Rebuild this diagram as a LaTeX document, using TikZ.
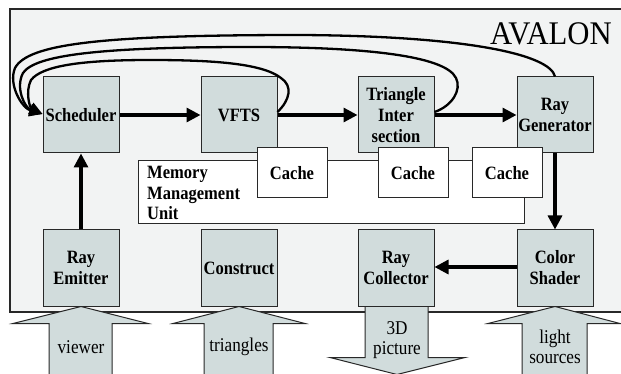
\documentclass[tikz,border=0pt]{standalone}
\usepackage{fontspec}
\setmainfont{Liberation Serif}
\newfontfamily\labfont{Liberation Serif}[FakeStretch=0.88]
\newfontfamily\titlefont{Liberation Serif}[FakeStretch=0.93]
\usetikzlibrary{arrows.meta,calc}
\definecolor{framefill}{RGB}{242,243,243}
\definecolor{boxfill}{RGB}{209,220,220}
\definecolor{edge}{RGB}{40,40,40}
\begin{document}
\begin{tikzpicture}[x=1pt,y=-1pt,
  unit/.style={draw=edge, line width=1pt, fill=boxfill, minimum width=76pt, minimum height=76pt,
    inner sep=0pt, align=center, font=\labfont\bfseries\fontsize{18.8}{21}\selectfont},
  cachebox/.style={draw=edge, line width=1pt, fill=white, minimum width=70pt, minimum height=50pt,
    inner sep=0pt, font=\labfont\bfseries\fontsize{18.8}{20.5}\selectfont},
  flow/.style={line width=3.2pt, -{Triangle[length=14pt,width=14pt]}},
  loopback/.style={line width=2.3pt, -{Triangle[length=13pt,width=12pt]}},
  blockarrow/.style={draw=edge, line width=1pt, fill=boxfill, line join=miter},
  io/.style={font=\labfont\fontsize{19.5}{20.5}\selectfont, align=center, inner sep=0pt}]
\useasboundingbox (0,0) rectangle (621,374);
\fill[white] (0,0) rectangle (621,374);
\draw[fill=framefill, line width=1.2pt, draw=edge] (10,9) rectangle (640,312);
\node[anchor=base east, font=\titlefont\fontsize{33}{33}\selectfont, inner sep=0pt] (avalon) at (612,45) {AVALON};

% top row
\node[unit] (sched) at (81,115) {Scheduler};
\node[unit] (vfts) at (239,115) {VFTS};
\node[unit] (tri) at (396,115) {Triangle\\Inter\\section};
\node[unit] (rgen) at (555,115) {Ray\\Generator};

% bottom row
\node[unit] (remit) at (81,268) {Ray\\Emitter};
\node[unit] (constr) at (239,268) {Construct};
\node[unit] (rcoll) at (396,268) {Ray\\Collector};
\node[unit] (cshade) at (555,268) {Color\\Shader};

% block arrows (in/out)
\draw[blockarrow] ($(remit.south)+(-32,80)$) -- ($(remit.south)+(-32,17)$) -- ($(remit.south)+(-68,17)$)
  -- (remit.south) -- ($(remit.south)+(67,17)$) -- ($(remit.south)+(31,17)$) -- ($(remit.south)+(31,80)$);
\draw[blockarrow] ($(constr.south)+(-35,80)$) -- ($(constr.south)+(-35,17)$) -- ($(constr.south)+(-66,17)$)
  -- (constr.south) -- ($(constr.south)+(66,17)$) -- ($(constr.south)+(34,17)$) -- ($(constr.south)+(34,80)$);
\draw[blockarrow] ($(cshade.south)+(-33,80)$) -- ($(cshade.south)+(-33,17)$) -- ($(cshade.south)+(-67,17)$)
  -- (cshade.south) -- ($(cshade.south)+(65,17)$) -- ($(cshade.south)+(32,17)$) -- ($(cshade.south)+(32,80)$);
\draw[blockarrow] ($(rcoll.south)+(-31,0)$) -- ($(rcoll.south)+(-31,51)$) -- ($(rcoll.south)+(-66,51)$)
  -- ($(rcoll.south)+(1,68)$) -- ($(rcoll.south)+(69,51)$) -- ($(rcoll.south)+(32,51)$) -- ($(rcoll.south)+(32,0)$);

% redraw bottom boxes over the arrow tips
\node[unit] at (remit) {Ray\\Emitter};
\node[unit] at (constr) {Construct};
\node[unit] at (rcoll) {Ray\\Collector};
\node[unit] at (cshade) {Color\\Shader};

\node[io] (lview) at (81,347) {viewer};
\node[io] (ltri) at (239,347) {triangles};
\node[io] (lpic) at (397,340) {3D\\picture};
\node[io] (llight) at (555,347) {light\\sources};

% memory management unit
\node[draw=edge, line width=1pt, fill=white, minimum width=386pt, minimum height=63pt, inner sep=0pt,
  anchor=north west] (mmu) at (138,160) {};
\node[anchor=north west, align=left, inner sep=0pt, font=\labfont\bfseries\fontsize{18.8}{20.5}\selectfont]
  (mmutext) at (147,166) {Memory\\Management\\Unit};
\node[cachebox] (c1) at (292,173) {Cache};
\node[cachebox] (c2) at (413,173) {Cache};
\node[cachebox] (c3) at (507,173) {Cache};

% data flow
\draw[flow] (sched) -- (vfts);
\draw[flow] (vfts) -- (tri);
\draw[flow] (tri) -- (rgen);
\draw[flow] (remit) -- (sched);
\draw[flow] (rgen) -- (cshade);
\draw[flow] ([yshift=1pt]cshade.west) -- ([yshift=1pt]rcoll.east);

% feedback loops
\draw[loopback] ([yshift=3pt]vfts.east) .. controls (290,100) and (293,86) .. (281,78)
  .. controls (262,63) and (210,60) .. (150,60) .. controls (80,60) and (42,66) .. (31,80)
  .. controls (25,92) and (30,108) .. ([yshift=1pt]sched.west);
\draw[loopback] ([yshift=3pt]tri.east) .. controls (452,106) and (462,90) .. (456,78)
  .. controls (445,55) and (360,47) .. (250,47) .. controls (100,47) and (35,55) .. (23,73)
  .. controls (15,88) and (25,108) .. ([yshift=1pt]sched.west);
\draw[loopback] (rgen.north) .. controls (550,55) and (470,36) .. (300,35)
  .. controls (100,35) and (28,44) .. (15,68)
  .. controls (8,85) and (22,108) .. ([yshift=1pt]sched.west);
\end{tikzpicture}
\end{document}
